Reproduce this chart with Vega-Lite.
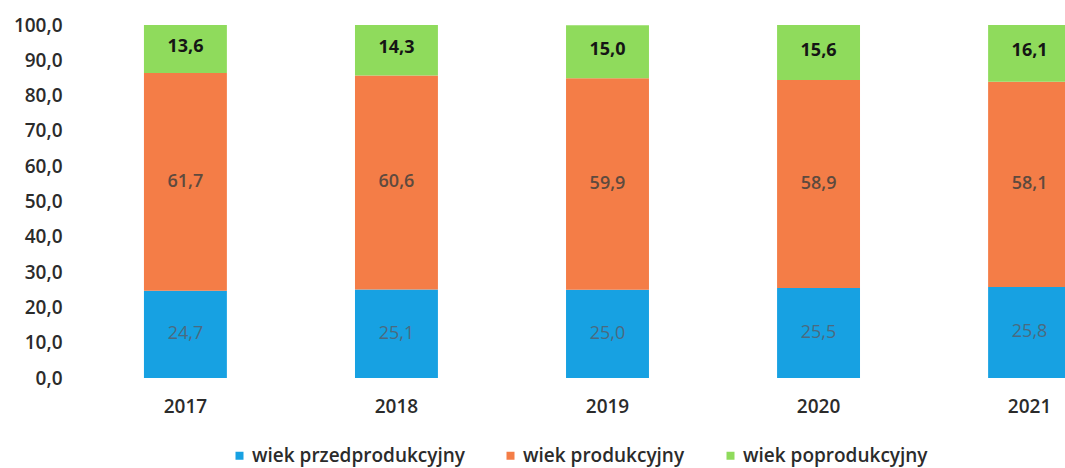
{
  "$schema": "https://vega.github.io/schema/vega-lite/v6.json",
  "autosize": "none",
  "width": 1055,
  "height": 353,
  "padding": {"left": 80, "top": 25, "right": 0, "bottom": 90},
  "background": "white",
  "config": {
    "view": {"stroke": null},
    "font": "Open Sans",
    "locale": {"number": {"decimal": ",", "thousands": " ", "grouping": [3], "currency": ["", " zł"]}}
  },
  "data": {"values": [
    {"rok": "2017", "grupa": "wiek przedprodukcyjny", "ord": 1, "wartosc": 24.7},
    {"rok": "2017", "grupa": "wiek produkcyjny", "ord": 2, "wartosc": 61.7},
    {"rok": "2017", "grupa": "wiek poprodukcyjny", "ord": 3, "wartosc": 13.6},
    {"rok": "2018", "grupa": "wiek przedprodukcyjny", "ord": 1, "wartosc": 25.1},
    {"rok": "2018", "grupa": "wiek produkcyjny", "ord": 2, "wartosc": 60.6},
    {"rok": "2018", "grupa": "wiek poprodukcyjny", "ord": 3, "wartosc": 14.3},
    {"rok": "2019", "grupa": "wiek przedprodukcyjny", "ord": 1, "wartosc": 25.0},
    {"rok": "2019", "grupa": "wiek produkcyjny", "ord": 2, "wartosc": 59.9},
    {"rok": "2019", "grupa": "wiek poprodukcyjny", "ord": 3, "wartosc": 15.0},
    {"rok": "2020", "grupa": "wiek przedprodukcyjny", "ord": 1, "wartosc": 25.5},
    {"rok": "2020", "grupa": "wiek produkcyjny", "ord": 2, "wartosc": 58.9},
    {"rok": "2020", "grupa": "wiek poprodukcyjny", "ord": 3, "wartosc": 15.6},
    {"rok": "2021", "grupa": "wiek przedprodukcyjny", "ord": 1, "wartosc": 25.8},
    {"rok": "2021", "grupa": "wiek produkcyjny", "ord": 2, "wartosc": 58.1},
    {"rok": "2021", "grupa": "wiek poprodukcyjny", "ord": 3, "wartosc": 16.1}
  ]},
  "transform": [
    {"stack": "wartosc", "groupby": ["rok"], "sort": [{"field": "ord", "order": "ascending"}], "as": ["y0", "y1"]},
    {"calculate": "(datum.y0 + datum.y1) / 2", "as": "ymid"}
  ],
  "encoding": {
    "x": {
      "field": "rok", "type": "nominal",
      "scale": {"paddingInner": 0.607, "paddingOuter": 0.303},
      "axis": {"title": null, "labelAngle": 0, "domain": false, "ticks": false, "labelPadding": 19, "labelFontSize": 19, "labelColor": "#2b2b2b", "labelFontWeight": 600}
    }
  },
  "resolve": {"axis": {"y": "independent"}},
  "layer": [
    {
      "mark": {"type": "bar"},
      "encoding": {
        "y": {
          "field": "y0", "type": "quantitative",
          "scale": {"domain": [0, 100]},
          "axis": {"title": null, "values": [0,10,20,30,40,50,60,70,80,90,100], "format": ".1f", "labelOverlap": false, "grid": false, "domain": false, "ticks": false, "labelPadding": 18, "labelFontSize": 19, "labelColor": "#2b2b2b", "labelFontWeight": 600}
        },
        "y2": {"field": "y1"},
        "color": {
          "field": "grupa", "type": "nominal",
          "scale": {"domain": ["wiek przedprodukcyjny", "wiek produkcyjny", "wiek poprodukcyjny"], "range": ["#17a1e2", "#f47d47", "#8fdb5c"]},
          "legend": {"title": null, "orient": "none", "direction": "horizontal", "legendX": 150, "legendY": 421, "symbolType": "square", "symbolSize": 64, "symbolStrokeWidth": 0, "labelFontSize": 19, "labelColor": "#2b2b2b", "labelFontWeight": 600, "labelLimit": 0, "columnPadding": 36, "labelOffset": 3}
        }
      }
    },
    {
      "transform": [{"filter": "datum.ord == 3"}],
      "mark": {"type": "text", "fontSize": 18, "fontWeight": "bold", "color": "#151515", "dy": -2},
      "encoding": {
        "y": {"field": "ymid", "type": "quantitative", "axis": null},
        "text": {"field": "wartosc", "type": "quantitative", "format": ".1f"}
      }
    },
    {
      "transform": [{"filter": "datum.ord == 2"}],
      "mark": {"type": "text", "fontSize": 18, "fontWeight": 600, "color": "#5e4a3e"},
      "encoding": {
        "y": {"field": "ymid", "type": "quantitative", "axis": null},
        "text": {"field": "wartosc", "type": "quantitative", "format": ".1f"}
      }
    },
    {
      "transform": [{"filter": "datum.ord == 1"}],
      "mark": {"type": "text", "fontSize": 18, "fontWeight": "normal", "color": "#4b6a80"},
      "encoding": {
        "y": {"field": "ymid", "type": "quantitative", "axis": null},
        "text": {"field": "wartosc", "type": "quantitative", "format": ".1f"}
      }
    }
  ]
}
